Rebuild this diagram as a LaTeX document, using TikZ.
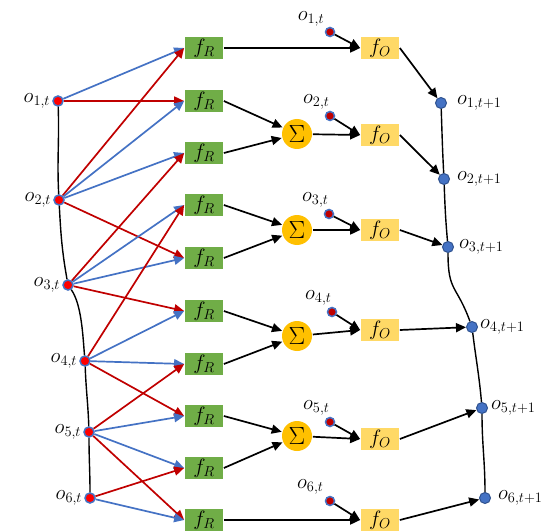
\documentclass[tikz,border=0pt]{standalone}
\usetikzlibrary{arrows.meta, positioning}
\definecolor{rblue}{HTML}{4472C4}
\definecolor{rred}{HTML}{C00000}
\definecolor{rgreen}{HTML}{70AD47}
\definecolor{ryellow}{HTML}{FFD966}
\definecolor{rorange}{HTML}{FFC000}
\definecolor{rnavy}{HTML}{2F528F}
\tikzset{
    -{Triangle[length=10pt,width=9pt]},
    every node/.style={font=\huge},
    relbox/.style={fill=rgreen, minimum width=38pt, minimum height=22pt, inner sep=0pt},
    objbox/.style={fill=ryellow, minimum width=38pt, minimum height=22pt, inner sep=0pt},
    sumnode/.style={circle, fill=rorange, minimum size=30pt, inner sep=0pt, font=\Huge},
    obj/.style={circle, fill=red, draw=rblue, line width=1.5pt, minimum size=10pt, inner sep=0pt},
    src/.style={circle, fill=rred, draw=rblue, line width=1.5pt, minimum size=9pt, inner sep=0pt},
    nxt/.style={circle, fill=rblue, draw=rnavy, line width=1pt, minimum size=11pt, inner sep=0pt},
    recv/.style={rblue},
    send/.style={rred},
}

\begin{document}
\begin{tikzpicture}[x=1pt, y=-1pt, line width=1.7pt]
    \useasboundingbox (0,0) rectangle (549,532);

    \node[obj, label={[label distance=-2pt]left:$o_{1,t}$}] (o1) at (58,101) {};
    \node[obj, label={[label distance=-2pt]left:$o_{2,t}$}] (o2) at (59,200) {};
    \node[obj, label={[label distance=-2pt]left:$o_{3,t}$}] (o3) at (68,285) {};
    \node[obj, label={[label distance=-2pt]left:$o_{4,t}$}] (o4) at (85,361) {};
    \node[obj, label={[label distance=-2pt]left:$o_{5,t}$}] (o5) at (89,432) {};
    \node[obj, label={[label distance=-2pt]left:$o_{6,t}$}] (o6) at (90,498) {};

    \node[relbox] (fr1) at (204,48) {$f_R$};
    \node[relbox] (fr2) at (204,101) {$f_R$};
    \node[relbox] (fr3) at (204,153) {$f_R$};
    \node[relbox] (fr4) at (204,205) {$f_R$};
    \node[relbox] (fr5) at (204,258) {$f_R$};
    \node[relbox] (fr6) at (204,311) {$f_R$};
    \node[relbox] (fr7) at (204,364) {$f_R$};
    \node[relbox] (fr8) at (204,416) {$f_R$};
    \node[relbox] (fr9) at (204,468) {$f_R$};
    \node[relbox] (fr10) at (204,520) {$f_R$};

    \node[sumnode] (s1) at (297,134) {$\Sigma$};
    \node[sumnode] (s2) at (297,230) {$\Sigma$};
    \node[sumnode] (s3) at (297,336) {$\Sigma$};
    \node[sumnode] (s4) at (297,436) {$\Sigma$};

    \node[objbox] (fo1) at (380,48) {$f_O$};
    \node[objbox] (fo2) at (380,135) {$f_O$};
    \node[objbox] (fo3) at (380,230) {$f_O$};
    \node[objbox] (fo4) at (380,330) {$f_O$};
    \node[objbox] (fo5) at (380,439) {$f_O$};
    \node[objbox] (fo6) at (380,520) {$f_O$};

    \node[src, label={[label distance=-3pt]above left:$o_{1,t}$}] (d1) at (330,32) {};
    \node[src, label={[xshift=6pt, label distance=-2pt]above left:$o_{2,t}$}] (d2) at (330,116) {};
    \node[src, label={[xshift=6pt, label distance=-2pt]above left:$o_{3,t}$}] (d3) at (329,214) {};
    \node[src, label={[xshift=6pt, label distance=-2pt]above left:$o_{4,t}$}] (d4) at (332,312) {};
    \node[src, label={[xshift=6pt, label distance=-2pt]above left:$o_{5,t}$}] (d5) at (330,422) {};
    \node[src, label={[label distance=-2pt]above left:$o_{6,t}$}] (d6) at (330,501) {};

    \node[nxt, label={[label distance=6pt]right:$o_{1,t+1}$}] (n1) at (441,103) {};
    \node[nxt, label={[label distance=3pt]right:$o_{2,t+1}$}] (n2) at (444,179) {};
    \node[nxt, label={[label distance=1pt]right:$o_{3,t+1}$}] (n3) at (448,247) {};
    \node[nxt, label={[label distance=-2pt]right:$o_{4,t+1}$}] (n4) at (472,327) {};
    \node[nxt, label={[label distance=-1pt]right:$o_{5,t+1}$}] (n5) at (482,408) {};
    \node[nxt, label={[label distance=3pt]right:$o_{6,t+1}$}] (n6) at (485,498) {};

    \draw[-, line width=1.4pt] (o1) to[out=-88, in=93] (o2) to[out=-87, in=100] (o3)
        to[out=-55, in=95, looseness=0.7] (o4) to[out=-88, in=92] (o5) to[out=-90, in=90] (o6);
    \draw[-, line width=1.4pt] (n1) to[out=-88, in=93] (n2) to[out=-88, in=95] (n3)
        to[out=-90, in=110, looseness=1.4] (n4) to[out=-83, in=95] (n5) to[out=-90, in=90] (n6);

    \draw[recv] (o1) -- (fr1.west);
    \draw[send] (o1) -- (fr2.west);
    \draw[send] (o2) -- (fr1.west);
    \draw[recv] (o2) -- (fr2.west);
    \draw[recv] (o2) -- (fr3.west);
    \draw[send] (o2) -- (fr5.west);
    \draw[send] (o3) -- (fr3.west);
    \draw[recv] (o3) -- (fr4.west);
    \draw[recv] (o3) -- (fr5.west);
    \draw[send] (o3) -- (fr6.west);
    \draw[send] (o4) -- (fr4.west);
    \draw[recv] (o4) -- (fr6.west);
    \draw[recv] (o4) -- (fr7.west);
    \draw[send] (o4) -- (fr8.west);
    \draw[send] (o5) -- (fr7.west);
    \draw[recv] (o5) -- (fr8.west);
    \draw[recv] (o5) -- (fr9.west);
    \draw[send] (o5) -- (fr10.west);
    \draw[send] (o6) -- (fr9.west);
    \draw[recv] (o6) -- (fr10.west);

    \draw (fr1.east) -- (fo1.west);
    \draw (fr2.east) -- (s1);
    \draw (fr3.east) -- (s1);
    \draw (fr4.east) -- (s2);
    \draw (fr5.east) -- (s2);
    \draw (fr6.east) -- (s3);
    \draw (fr7.east) -- (s3);
    \draw (fr8.east) -- (s4);
    \draw (fr9.east) -- (s4);
    \draw (fr10.east) -- (fo6.west);

    \draw (s1) -- (fo2.west);
    \draw (s2) -- (fo3.west);
    \draw (s3) -- (fo4.west);
    \draw (s4) -- (fo5.west);

    \draw (d1) -- (fo1.west);
    \draw (d2) -- (fo2.west);
    \draw (d3) -- (fo3.west);
    \draw (d4) -- (fo4.west);
    \draw (d5) -- (fo5.west);
    \draw (d6) -- (fo6.west);

    \draw (fo1.east) -- (n1);
    \draw (fo2.east) -- (n2);
    \draw (fo3.east) -- (n3);
    \draw (fo4.east) -- (n4);
    \draw (fo5.east) -- (n5);
    \draw (fo6.east) -- (n6);
\end{tikzpicture}
\end{document}
